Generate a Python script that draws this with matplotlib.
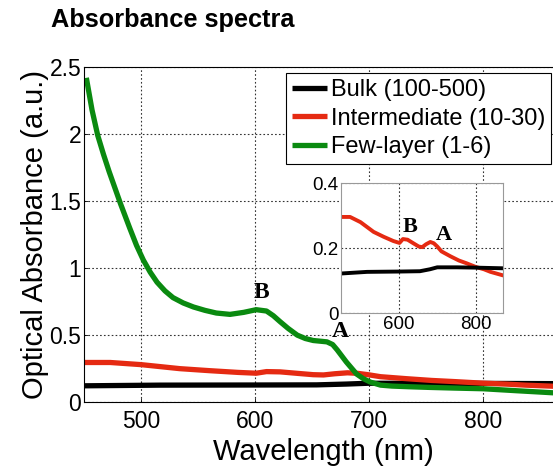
import matplotlib
matplotlib.use("Agg")
import matplotlib.pyplot as plt
import numpy as np

plt.rcParams['font.family'] = ['Liberation Sans', 'DejaVu Sans']

# Few-layer (1-6) — green
wl_few = [452, 457, 462, 467, 472, 477, 482, 490, 496, 502, 508, 514, 521, 528, 537, 546, 556, 566,
          578, 590, 601, 610, 616, 622, 629, 637, 644, 651, 657, 663, 668, 672, 676, 680, 685, 689,
          695, 701, 710, 720, 735, 753, 775, 800, 830, 861, 870]
abs_few = [2.42, 2.18, 1.99, 1.85, 1.72, 1.60, 1.48, 1.30, 1.17, 1.06, 0.97, 0.895, 0.83, 0.78, 0.74, 0.71, 0.685, 0.665,
           0.655, 0.67, 0.69, 0.68, 0.645, 0.60, 0.55, 0.50, 0.475, 0.46, 0.455, 0.45, 0.43, 0.39, 0.345, 0.30, 0.25, 0.21,
           0.175, 0.15, 0.127, 0.12, 0.115, 0.11, 0.105, 0.10, 0.085, 0.07, 0.07]

# Intermediate (10-30) — red
wl_int = [450, 473, 500, 517, 534, 560, 585, 601, 610, 622, 637, 651, 660, 670, 681, 690, 699, 710, 733, 755, 776, 799, 820, 837, 867, 870]
abs_int = [0.296, 0.296, 0.28, 0.265, 0.25, 0.235, 0.222, 0.216, 0.228, 0.226, 0.215, 0.205, 0.203, 0.212, 0.219, 0.215, 0.205, 0.19, 0.175, 0.162, 0.153, 0.142, 0.135, 0.127, 0.117, 0.116]

# Bulk (100-500) — black
wl_bulk = [450, 517, 600, 654, 680, 699, 750, 800, 870]
abs_bulk = [0.122, 0.127, 0.128, 0.129, 0.135, 0.141, 0.141, 0.140, 0.138]

series_labels = ['Bulk (100-500)', 'Intermediate (10-30)', 'Few-layer (1-6)']
xticks = [500, 600, 700, 800]
yticks = [0, 0.5, 1, 1.5, 2, 2.5]
ytick_labels = ['0', '0.5', '1', '1.5', '2', '2.5']
inset_xticks = [600, 800]
inset_yticks = [0, 0.2, 0.4]
inset_ytick_labels = ['0', '0.2', '0.4']

GREEN = '#0a8a10'
RED = '#e52a12'
BLACK = '#000000'

fig = plt.figure(figsize=(5.53, 4.66), dpi=100)
ax = fig.add_axes([0.152, 0.137, 0.866, 0.719])

kw = dict(lw=3.8, solid_capstyle='butt', solid_joinstyle='round')
ax.plot(wl_bulk, abs_bulk, color=BLACK, label=series_labels[0], **kw)
ax.plot(wl_int, abs_int, color=RED, label=series_labels[1], **kw)
ax.plot(wl_few, abs_few, color=GREEN, label=series_labels[2], **kw)

ax.set_xlim(450, 870)
ax.set_ylim(0, 2.5)
ax.set_xticks(xticks)
ax.set_xticklabels([str(t) for t in xticks], fontsize=16.5)
ax.set_yticks(yticks)
ax.set_yticklabels(ytick_labels, fontsize=16.5)
ax.tick_params(direction='in', length=3, width=0.6)
ax.tick_params(axis='x', pad=6)
ax.tick_params(axis='y', pad=2)
ax.grid(True, linestyle=(0, (1.5, 2)), color='#333333', lw=0.8)
for s in ax.spines.values():
    s.set_linewidth(0.8)
ax.set_xlabel('Wavelength (nm)', fontsize=21, labelpad=3)
ax.set_ylabel('Optical Absorbance (a.u.)', fontsize=21, labelpad=0)

ax.text(606, 0.82, 'B', fontsize=17, fontweight='bold', family='Liberation Serif', ha='center', va='center')
ax.text(675, 0.525, 'A', fontsize=17, fontweight='bold', family='Liberation Serif', ha='center', va='center')

leg = ax.legend(loc='upper right', bbox_to_anchor=(0.975, 0.982), fontsize=17, handlelength=1.5,
                handletextpad=0.15, borderpad=0.25, labelspacing=0.28, fancybox=False,
                framealpha=1, edgecolor='black', borderaxespad=0)
leg.get_frame().set_linewidth(0.8)

fig.text(0.093, 0.957, 'Absorbance spectra', fontsize=18.3, fontweight='bold', ha='left', va='center')

# inset
axi = fig.add_axes([0.617, 0.328, 0.293, 0.279])
axi.plot(wl_int, abs_int, color=RED, lw=2.8, solid_joinstyle='round')
axi.plot(wl_bulk, abs_bulk, color=BLACK, lw=2.8, solid_joinstyle='round')
axi.set_xlim(450, 870)
axi.set_ylim(0, 0.4)
axi.set_xticks(inset_xticks)
axi.set_xticklabels([str(t) for t in inset_xticks], fontsize=13.5)
axi.set_yticks(inset_yticks)
axi.set_yticklabels(inset_ytick_labels, fontsize=13.5)
axi.tick_params(direction='in', length=0, pad=2)
axi.grid(True, linestyle=(0, (1.5, 2)), color='#333333', lw=0.8)
for s in axi.spines.values():
    s.set_color('#999999')
    s.set_linewidth(0.8)
axi.text(629, 0.265, 'B', fontsize=16, fontweight='bold', family='Liberation Serif', ha='center', va='center')
axi.text(715, 0.24, 'A', fontsize=16, fontweight='bold', family='Liberation Serif', ha='center', va='center')

fig.savefig('out.png', dpi=100)
